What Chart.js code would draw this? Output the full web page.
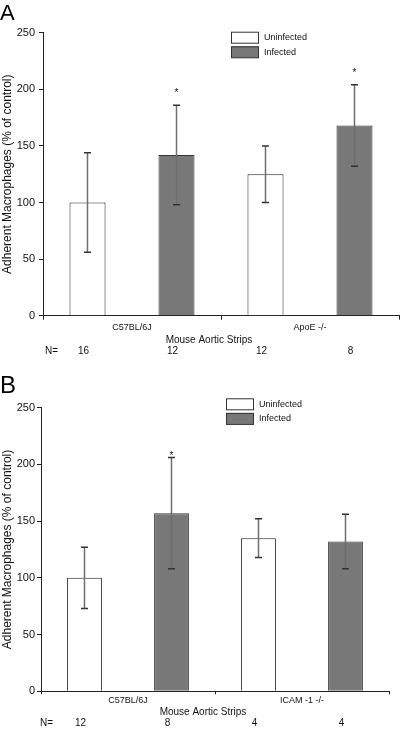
<!DOCTYPE html>
<html><head><meta charset="utf-8">
<script src="https://cdn.jsdelivr.net/npm/chart.js@4.4.0/dist/chart.umd.min.js"></script>
<style>
html,body{margin:0;padding:0;background:#fff;}
#wrapA{position:absolute;left:0;top:0;width:400px;height:366px;}
#wrapB{position:absolute;left:0;top:366px;width:400px;height:367px;}
canvas{display:block;}
</style></head><body>
<div id="wrapA"><canvas id="cA" width="400" height="366"></canvas></div>
<div id="wrapB"><canvas id="cB" width="400" height="367"></canvas></div>
<script>
// ---- data ----
const seriesNames = ['Uninfected', 'Infected'];
const yTicks = [0, 50, 100, 150, 200, 250];
const yTitle = 'Adherent Macrophages (% of control)';
const xTitle = 'Mouse Aortic Strips';
const nLabel = 'N=';

const categoriesA = ['C57BL/6J', 'ApoE -/-'];
const uninfectedA = [100, 125];
const uninfectedErrA = [44, 25];
const infectedA = [142, 168];
const infectedErrA = [44, 36];
const nUninfectedA = [16, 12];
const nInfectedA = [12, 8];
const sigUninfectedA = [false, false];
const sigInfectedA = [true, true];

const categoriesB = ['C57BL/6J', 'ICAM -1 -/-'];
const uninfectedB = [100, 135];
const uninfectedErrB = [27, 17];
const infectedB = [157, 132];
const infectedErrB = [49, 24];
const nUninfectedB = [12, 4];
const nInfectedB = [8, 4];
const sigUninfectedB = [false, false];
const sigInfectedB = [true, false];

// ---- rendering ----
const FAM = '"Liberation Sans", Arial, Helvetica, sans-serif';
Chart.defaults.font.family = FAM;
Chart.defaults.color = '#111';

const extras = {
  id: 'extras',
  afterDraw(chart, args, o) {
    const ctx = chart.ctx;
    const yS = chart.scales.y;
    const ca = chart.chartArea;
    ctx.save();
    // panel letter
    ctx.fillStyle = '#000';
    ctx.font = o.letterSize + 'px ' + FAM;
    ctx.textAlign = 'left';
    ctx.textBaseline = 'alphabetic';
    ctx.fillText(o.letter, 0, o.letterY);

    // error bars, stars, N labels
    chart.data.datasets.forEach((ds, di) => {
      const meta = chart.getDatasetMeta(di);
      meta.data.forEach((bar, i) => {
        const v = ds.data[i], e = ds.errors[i];
        const x = bar.x;
        const yt = yS.getPixelForValue(v + e);
        const yb = yS.getPixelForValue(v - e);
        ctx.strokeStyle = '#6e6e6e';
        ctx.lineWidth = 1.5;
        ctx.beginPath(); ctx.moveTo(x, yt); ctx.lineTo(x, yb); ctx.stroke();
        ctx.strokeStyle = '#333';
        ctx.beginPath();
        ctx.moveTo(x - 3.5, yt); ctx.lineTo(x + 3.5, yt);
        ctx.moveTo(x - 3.5, yb); ctx.lineTo(x + 3.5, yb);
        ctx.stroke();
        if (ds.sig[i]) {
          ctx.fillStyle = '#111';
          ctx.font = '10px ' + FAM;
          ctx.textAlign = 'center';
          ctx.textBaseline = 'alphabetic';
          ctx.fillText('*', x, yt - o.starGap + 5.7);
        }
        ctx.fillStyle = '#111';
        ctx.font = '10px ' + FAM;
        ctx.textAlign = 'center';
        ctx.textBaseline = 'middle';
        ctx.fillText(String(ds.n[i]), x - 4, o.nY);
      });
    });
    // N= label
    ctx.font = '10px ' + FAM;
    ctx.textAlign = 'left';
    ctx.textBaseline = 'middle';
    ctx.fillText(nLabel, o.nX, o.nY);
    // x title
    ctx.textAlign = 'center';
    ctx.fillText(xTitle, (ca.left + ca.right) / 2 - 12, o.xTitleY);

    // legend
    chart.data.datasets.forEach((ds, di) => {
      const bx = ca.left + o.legendDX, by = o.legendY + di * 14.6;
      ctx.fillStyle = ds.backgroundColor;
      ctx.fillRect(bx, by, 27.5, 11.5);
      ctx.strokeStyle = '#333';
      ctx.lineWidth = 1;
      ctx.strokeRect(bx + 0.5, by + 0.5, 27, 11);
      ctx.fillStyle = '#111';
      ctx.font = '9px ' + FAM;
      ctx.textAlign = 'left';
      ctx.textBaseline = 'middle';
      ctx.fillText(ds.label, bx + 33, by + 6);
    });
    ctx.restore();
  }
};

function makeChart(id, cats, unif, unifErr, inf, infErr, nU, nI, sU, sI, cfg) {
  return new Chart(document.getElementById(id), {
    type: 'bar',
    data: {
      labels: cats,
      datasets: [
        { label: seriesNames[0], data: unif, errors: unifErr, n: nU, sig: sU,
          backgroundColor: '#ffffff', borderColor: '#222', borderWidth: 1 },
        { label: seriesNames[1], data: inf, errors: infErr, n: nI, sig: sI,
          backgroundColor: '#787878', borderColor: '#333', borderWidth: 1 }
      ]
    },
    options: {
      responsive: false,
      animation: false,
      devicePixelRatio: 1,
      layout: { padding: { top: cfg.top, right: cfg.right, left: 0, bottom: 0 } },
      datasets: { bar: { categoryPercentage: 1.0, barPercentage: cfg.barPct } },
      plugins: {
        legend: { display: false },
        tooltip: { enabled: false },
        extras: cfg.extras
      },
      scales: {
        x: {
          offset: true,
          grid: { display: true, drawOnChartArea: false, drawTicks: true, tickLength: cfg.xTick, color: '#222', offset: true },
          border: { display: true, color: '#222', width: 1 },
          ticks: { font: { size: 9 }, color: '#111', padding: cfg.xPad, maxRotation: 0 },
          afterFit: s => { s.height = cfg.xHeight; }
        },
        y: {
          min: 0, max: 250,
          afterBuildTicks: s => { s.ticks = yTicks.map(v => ({ value: v })); },
          grid: { drawOnChartArea: false, drawTicks: true, tickLength: 4, color: '#222' },
          border: { display: true, color: '#222', width: 1 },
          ticks: { font: { size: 11 }, color: '#111', padding: cfg.yPad },
          title: { display: true, text: yTitle, font: { size: 12 }, color: '#111', padding: 0 },
          afterFit: s => { s.width = cfg.yWidth; }
        }
      }
    },
    plugins: [extras]
  });
}

makeChart('cA', categoriesA, uninfectedA, uninfectedErrA, infectedA, infectedErrA,
  nUninfectedA, nInfectedA, sigUninfectedA, sigInfectedA, {
    top: 32.7, right: 1, xHeight: 50.3, yWidth: 43, barPct: 0.405, xTick: 4, xPad: 2, yPad: 4,
    extras: { letter: 'A', letterSize: 22, letterY: 20, starGap: 14.5, nX: 45, nY: 351.7,
      xTitleY: 340, legendDX: 188, legendY: 31.7 }
  });

makeChart('cB', categoriesB, uninfectedB, uninfectedErrB, infectedB, infectedErrB,
  nUninfectedB, nInfectedB, sigUninfectedB, sigInfectedB, {
    top: 41.7, right: 11, xHeight: 41.7, yWidth: 41, barPct: 0.40, xTick: 3, xPad: 1, yPad: 2,
    extras: { letter: 'B', letterSize: 24, letterY: 27.3, starGap: 4.3, nX: 40, nY: 357.3,
      xTitleY: 346.3, legendDX: 185, legendY: 32.3 }
  });
</script>
</body></html>
